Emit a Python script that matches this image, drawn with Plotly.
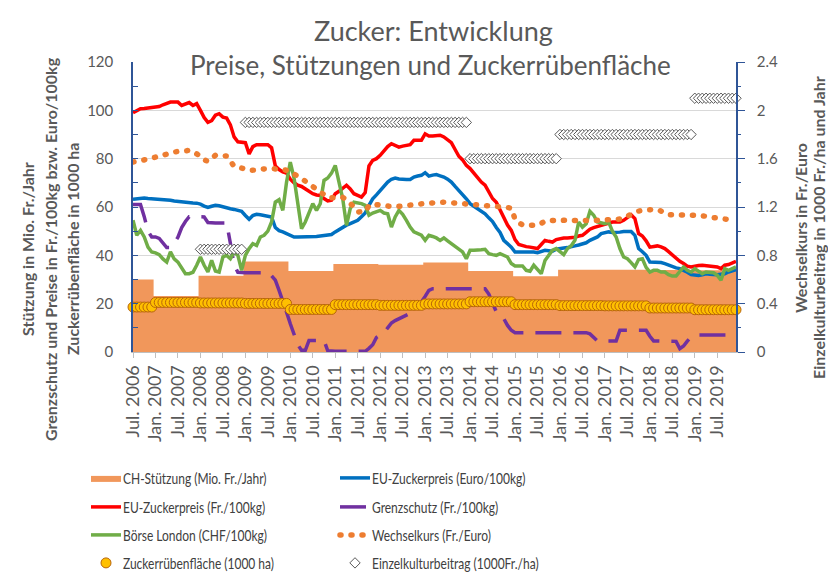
import plotly.graph_objects as go
import pandas as pd

# ---------------- categories ----------------
months = pd.date_range("2006-07-01", "2019-12-01", freq="MS")
month_idx = list(range(len(months)))
tick_idx = [i for i, m in enumerate(months) if m.month in (1, 7)]
tick_labels = [("Jan. " if months[i].month == 1 else "Jul. ") + str(months[i].year) for i in tick_idx]
years = list(range(2006, 2020))

# ---------------- yearly series ----------------
ch_stuetzung = [30.0, 23.2, 31.6, 37.5, 33.5, 36.4, 36.1, 37.0, 33.5, 31.3, 34.0, 34.0, 33.9, 33.8]   # Mio. Fr./Jahr
zrf_flaeche = [18.6, 20.5, 20.3, 20.1, 17.6, 19.6, 19.3, 19.9, 20.8, 19.6, 19.2, 19.1, 18.2, 17.5]   # 1000 ha
einzelkultur = [None, None, 0.85, 1.9, 1.9, 1.9, 1.9, 1.9, 1.6, 1.6, 1.8, 1.8, 1.8, 2.1]            # 1000 Fr./ha

# ---------------- monthly series (Jul 2006 .. Dec 2019) ----------------
eu_preis_fr = [
    99.0, 100.0, 100.7, 100.8, 101.0, 101.2,
    101.4, 101.6, 102.3, 102.8, 103.4, 103.4, 103.4, 102.0, 102.5, 103.2, 102.0, 102.8,
    100.0, 97.0, 95.0, 95.7, 98.0, 98.6, 97.2, 96.8, 94.0, 89.0, 87.0, 86.8,
    86.6, 82.0, 85.0, 85.8, 85.8, 85.8, 85.8, 84.5, 77.0, 75.5, 74.5, 74.0,
    71.5, 70.0, 69.0, 68.5, 67.5, 66.5, 65.5, 65.0, 64.8, 63.5, 62.5, 62.8,
    65.5, 66.5, 68.0, 69.0, 67.5, 65.5, 64.8, 64.1, 66.0, 77.0, 79.3, 80.0,
    81.4, 83.4, 85.0, 86.2, 85.5, 84.8, 85.2, 85.5, 85.8, 87.6, 87.6, 87.6,
    90.3, 89.4, 89.4, 89.7, 89.7, 89.0, 87.8, 86.6, 83.8, 81.0, 79.5, 77.2,
    75.9, 74.0, 72.5, 70.3, 69.0, 66.5, 63.5, 62.0, 59.0, 55.5, 52.5, 50.3,
    46.5, 44.5, 44.0, 43.6, 43.4, 43.0, 42.8, 44.5, 46.2, 45.8, 45.5, 46.5,
    47.0, 47.2, 47.2, 47.2, 47.5, 48.0, 48.3, 49.5, 50.8, 51.5, 52.0, 52.4,
    53.0, 53.5, 53.8, 53.8, 53.8, 54.5, 55.5, 56.8, 55.2, 49.0, 48.0, 46.0,
    43.4, 43.6, 43.9, 43.5, 42.8, 41.5, 40.0, 38.6, 37.5, 36.6, 35.5, 35.2,
    35.6, 35.8, 35.9, 35.8, 35.6, 35.4, 35.2, 34.5, 35.9, 36.2, 36.8, 37.5,
]
eu_preis_euro = [
    63.2, 63.4, 63.6, 63.7, 63.5, 63.4,
    63.4, 63.2, 63.0, 62.9, 62.8, 62.5, 62.3, 62.0, 61.9, 61.8, 61.7, 61.6,
    61.2, 60.4, 59.8, 60.3, 60.7, 60.5, 60.0, 59.6, 59.3, 59.0, 58.5, 58.2,
    56.5, 54.9, 56.5, 57.0, 56.8, 56.6, 56.2, 55.9, 51.5, 50.2, 49.7, 49.0,
    48.3, 47.6, 47.6, 47.6, 47.6, 47.6, 47.6, 47.8, 48.0, 48.3, 48.4, 48.6,
    49.7, 50.7, 51.7, 52.5, 53.1, 53.8, 54.5, 56.0, 57.5, 60.7, 63.4, 65.0,
    66.9, 68.8, 70.3, 71.5, 72.0, 71.6, 71.4, 71.4, 71.4, 72.4, 72.8, 73.1,
    74.2, 72.8, 73.2, 73.4, 72.9, 72.4, 71.5, 70.3, 68.5, 66.9, 65.0, 63.4,
    61.4, 60.3, 59.3, 58.2, 57.2, 55.5, 54.0, 51.5, 49.5, 46.2, 45.0, 43.4,
    41.4, 41.4, 41.7, 41.5, 41.5, 41.4, 41.1, 41.6, 42.1, 41.9, 41.7, 42.5,
    42.9, 43.0, 43.2, 43.4, 43.9, 44.3, 44.6, 45.2, 46.2, 47.0, 47.6, 49.0,
    49.5, 49.7, 49.5, 49.4, 49.6, 49.9, 49.9, 49.9, 48.3, 42.8, 41.5, 40.0,
    37.2, 37.2, 37.2, 37.0, 36.6, 35.9, 35.2, 34.8, 34.5, 33.8, 33.0, 32.0,
    31.8, 31.7, 32.0, 32.4, 32.2, 32.0, 32.0, 32.2, 32.4, 33.1, 33.6, 34.1,
]
grenzschutz = [
    61.0, 61.0, 61.0, 56.0, 50.0, 47.6,
    47.6, 47.0, 45.0, 43.2, 43.2, 45.0, 47.5, 51.5, 54.0, 56.0, 56.0, 56.0,
    56.2, 55.9, 53.6, 53.4, 53.4, 53.4, 53.4, 53.4, 45.0, 36.0, 33.0, 32.8,
    32.8, 32.8, 32.8, 32.8, 32.8, 32.8, 32.8, 31.5, 29.7, 25.5, 21.4, 16.5,
    11.7, 7.0, 3.0, 0.7, 0.7, 4.8, 4.8, 4.8, 4.8, 4.8, 0.5, 0.3,
    0.3, 0.3, 0.3, 0.3, 0.3, 0.3, 0.3, 0.3, 0.3, 1.5, 3.0, 6.0,
    7.0, 8.0, 10.0, 12.0, 13.0, 13.8, 14.5, 15.5, 16.0, 17.9, 19.5, 20.7,
    23.0, 25.5, 26.2, 26.2, 26.2, 26.2, 26.2, 26.2, 26.2, 26.2, 26.2, 26.2,
    26.2, 26.2, 26.2, 26.2, 26.2, 24.0, 20.0, 16.6, 15.0, 13.8, 11.0, 9.0,
    8.0, 8.0, 8.0, 8.0, 8.0, 8.0, 8.0, 8.0, 8.0, 8.0, 8.0, 8.0,
    8.0, 8.0, 8.0, 8.0, 8.0, 8.0, 8.0, 8.0, 7.5, 6.0, 4.6, 4.6,
    4.6, 4.6, 4.6, 4.6, 9.0, 9.0, 9.0, 9.0, 9.0, 9.0, 9.0, 9.0,
    6.5, 4.6, 4.6, 4.6, 4.6, 4.6, 4.6, 4.4, 1.4, 2.5, 4.5, 6.2,
    7.0, 7.0, 7.0, 7.0, 7.0, 7.0, 7.0, 7.0, 7.0, 7.0, 7.0, 7.0,
]
boerse_london = [
    54.5, 48.3, 50.3, 47.6, 43.4, 41.4,
    41.0, 40.3, 38.5, 37.2, 41.4, 38.5, 37.2, 34.5, 32.4, 32.4, 33.0, 35.9,
    39.3, 35.9, 33.1, 37.9, 33.5, 33.1, 39.3, 40.0, 38.6, 41.4, 40.0, 33.8,
    40.0, 42.8, 44.8, 44.1, 47.6, 48.3, 50.0, 53.8, 62.0, 63.0, 58.6, 70.3,
    78.6, 72.0, 62.0, 51.0, 53.8, 57.9, 61.4, 58.6, 61.4, 71.0, 72.0, 74.0,
    77.2, 70.3, 63.4, 52.4, 59.3, 62.0, 61.7, 61.4, 60.7, 56.6, 57.5, 57.9,
    58.6, 57.5, 57.2, 51.7, 55.9, 58.6, 57.0, 54.5, 51.7, 49.7, 49.0, 48.3,
    46.2, 48.3, 47.8, 47.2, 46.2, 47.2, 46.0, 44.8, 43.4, 42.4, 41.4, 38.6,
    42.1, 42.1, 42.1, 42.3, 42.5, 40.7, 40.3, 40.0, 40.7, 40.0, 39.3, 36.6,
    35.6, 35.6, 35.6, 33.8, 33.4, 35.9, 34.0, 32.4, 37.9, 40.0, 42.1, 42.8,
    41.5, 40.3, 42.8, 44.0, 46.2, 53.8, 51.7, 53.1, 58.2, 56.6, 53.8, 53.5,
    53.1, 53.8, 50.0, 47.6, 42.8, 39.3, 38.6, 37.0, 35.2, 38.3, 38.6, 35.0,
    33.1, 33.8, 33.8, 33.1, 33.1, 32.0, 31.4, 31.4, 33.5, 35.2, 33.8, 33.1,
    34.5, 33.5, 32.4, 33.1, 32.8, 32.8, 31.7, 29.7, 34.5, 33.8, 34.5, 35.2,
]
wechselkurs = [
    1.572, 1.576, 1.580, 1.586, 1.596, 1.604,
    1.614, 1.620, 1.628, 1.636, 1.646, 1.654, 1.660, 1.664, 1.666, 1.668, 1.660, 1.646,
    1.620, 1.590, 1.578, 1.600, 1.628, 1.626, 1.624, 1.622, 1.580, 1.536, 1.530, 1.526,
    1.514, 1.504, 1.500, 1.506, 1.512, 1.518, 1.518, 1.518, 1.518, 1.514, 1.510, 1.504,
    1.492, 1.476, 1.456, 1.436, 1.414, 1.390, 1.366, 1.346, 1.320, 1.292, 1.280, 1.276,
    1.280, 1.282, 1.280, 1.260, 1.236, 1.200, 1.158, 1.160, 1.164, 1.210, 1.228, 1.220,
    1.214, 1.210, 1.206, 1.204, 1.202, 1.204, 1.206, 1.210, 1.214, 1.218, 1.222, 1.226,
    1.230, 1.234, 1.238, 1.240, 1.240, 1.240, 1.238, 1.236, 1.234, 1.230, 1.228, 1.226,
    1.224, 1.222, 1.220, 1.218, 1.216, 1.214, 1.210, 1.206, 1.204, 1.200, 1.196, 1.190,
    1.100, 1.070, 1.052, 1.048, 1.048, 1.048, 1.050, 1.064, 1.084, 1.088, 1.090, 1.090,
    1.092, 1.094, 1.090, 1.088, 1.090, 1.092, 1.090, 1.088, 1.086, 1.088, 1.090, 1.090,
    1.088, 1.086, 1.088, 1.092, 1.100, 1.112, 1.128, 1.144, 1.158, 1.166, 1.172, 1.178,
    1.180, 1.180, 1.180, 1.170, 1.152, 1.136, 1.134, 1.132, 1.132, 1.132, 1.132, 1.132,
    1.132, 1.132, 1.130, 1.124, 1.118, 1.112, 1.106, 1.100, 1.096, 1.094, 1.092, 1.090,
]

# ---------------- derived (mapping yearly data onto the monthly axis) ----------------
year_of_month = [m.year for m in months]
first_month_of_year = {y: year_of_month.index(y) for y in years}
step_x = [first_month_of_year[y] - 0.5 for y in years] + [len(months) - 0.5]
step_y = ch_stuetzung + [ch_stuetzung[-1]]
zrf_by_year = dict(zip(years, zrf_flaeche))
ekb_by_year = dict(zip(years, einzelkultur))
zrf_monthly = [zrf_by_year[y] for y in year_of_month]
ekb_monthly = [ekb_by_year[y] for y in year_of_month]

# ---------------- styling / layout geometry ----------------
W_FIG, H_FIG = 828, 576
ML, MR, MT, MB = 133, 92, 62, 224
PW, PH = W_FIG - ML - MR, H_FIG - MT - MB

def px_x(p):
    return (p - ML) / PW

def px_y(p):
    return (H_FIG - MB - p) / PH

FONT = "Lato, 'Open Sans', sans-serif"
GREY = "#595959"
DARK = "#404040"
AXBLUE = "#2F5597"

fig = go.Figure()
fig.add_trace(go.Scatter(
    x=step_x, y=step_y, mode="lines", line=dict(width=0, shape="hv"),
    fill="tozeroy", fillcolor="rgb(241,151,91)", name="CH-Stützung (Mio. Fr./Jahr)",
    legend="legend"))
fig.add_trace(go.Scatter(
    x=month_idx, y=eu_preis_euro, mode="lines", line=dict(color="#0070C0", width=3.5),
    name="EU-Zuckerpreis (Euro/100kg)", legend="legend"))
fig.add_trace(go.Scatter(
    x=month_idx, y=eu_preis_fr, mode="lines", line=dict(color="#FF0000", width=3.5),
    name="EU-Zuckerpreis (Fr./100kg)", legend="legend2"))
fig.add_trace(go.Scatter(
    x=month_idx, y=grenzschutz, mode="lines", line=dict(color="#7030A0", width=3.5, dash="26px,12px"),
    name="Grenzschutz (Fr./100kg)", legend="legend2"))
fig.add_trace(go.Scatter(
    x=month_idx, y=boerse_london, mode="lines", line=dict(color="#70AD47", width=3.5),
    name="Börse London (CHF/100kg)", legend="legend3"))
fig.add_trace(go.Scatter(
    x=month_idx, y=wechselkurs, mode="lines", yaxis="y2",
    line=dict(color="#ED7D31", width=5.5, dash="1px,10px"),
    name="Wechselkurs (Fr./Euro)", legend="legend3"))
fig.add_trace(go.Scatter(
    x=month_idx, y=zrf_monthly, mode="markers", cliponaxis=False,
    marker=dict(symbol="circle", size=10, color="#FFC000", line=dict(color="#B8650A", width=1)),
    name="Zuckerrübenfläche (1000 ha)", legend="legend4"))
fig.add_trace(go.Scatter(
    x=month_idx, y=ekb_monthly, mode="markers", yaxis="y2", cliponaxis=False,
    marker=dict(symbol="diamond", size=8, color="white", line=dict(color="#595959", width=1)),
    name="Einzelkulturbeitrag (1000Fr./ha)", legend="legend4"))

legend_rows_px = [478, 507, 535, 563]
legend_common = dict(orientation="h", xanchor="left", yanchor="middle",
                     xref="container", yref="container",
                     x=86 / W_FIG, entrywidth=204, entrywidthmode="pixels",
                     font=dict(family=FONT, size=16, color=DARK),
                     bgcolor="rgba(0,0,0,0)", itemwidth=30, tracegroupgap=0)

annotations = [
    dict(text="Zucker: Entwicklung", x=px_x(433), y=px_y(31), xref="paper", yref="paper",
         showarrow=False, xanchor="center", yanchor="middle",
         font=dict(family=FONT, size=27, color=GREY)),
    dict(text="Preise, Stützungen und Zuckerrübenfläche", x=px_x(430), y=px_y(65),
         xref="paper", yref="paper", showarrow=False, xanchor="center", yanchor="middle",
         bgcolor="white", font=dict(family=FONT, size=26, color=GREY)),
]
left_titles = ["Stützung in Mio. Fr./Jahr",
               "Grenzschutz und Preise in Fr./100kg bzw. Euro/100kg",
               "Zuckerrübenfläche in 1000 ha"]
for xp, t in zip([27, 50, 72], left_titles):
    annotations.append(dict(text="<b>" + t + "</b>", x=px_x(xp), y=px_y(249), xref="paper", yref="paper",
                            showarrow=False, textangle=-90, xanchor="center", yanchor="middle",
                            font=dict(family=FONT, size=16, color=GREY)))
right_titles = ["Wechselkurs in Fr./Euro", "Einzelkulturbeitrag in 1000 Fr./ha und Jahr"]
for xp, t in zip([800, 818], right_titles):
    annotations.append(dict(text="<b>" + t + "</b>", x=px_x(xp), y=px_y(228), xref="paper", yref="paper",
                            showarrow=False, textangle=-90, xanchor="center", yanchor="middle",
                            font=dict(family=FONT, size=16, color=GREY)))

fig.update_layout(
    width=W_FIG, height=H_FIG,
    margin=dict(l=ML, r=MR, t=MT, b=MB, pad=0, autoexpand=False),
    paper_bgcolor="white", plot_bgcolor="white",
    font=dict(family=FONT, color=GREY),
    showlegend=True,
    legend=dict(legend_common, y=1 - legend_rows_px[0] / H_FIG),
    legend2=dict(legend_common, y=1 - legend_rows_px[1] / H_FIG),
    legend3=dict(legend_common, y=1 - legend_rows_px[2] / H_FIG),
    legend4=dict(legend_common, y=1 - legend_rows_px[3] / H_FIG),
    annotations=annotations,
    xaxis=dict(range=[0, len(months) - 1], tickmode="array", tickvals=tick_idx, ticktext=tick_labels,
               tickangle=-90, ticks="outside", ticklen=5, tickcolor="#BFBFBF",
               showline=True, linecolor="#BFBFBF", linewidth=1, showgrid=False, zeroline=False,
               tickfont=dict(family=FONT, size=18, color=GREY)),
    yaxis=dict(range=[0, 120], dtick=20, tick0=0, ticks="inside", ticklen=5, tickcolor=AXBLUE,
               minor=dict(dtick=10, ticks="inside", ticklen=5, tickcolor=AXBLUE, showgrid=False),
               showline=True, linecolor=AXBLUE, linewidth=1.5, showgrid=True, gridcolor="#D9D9D9",
               gridwidth=1, zeroline=False, ticklabelstandoff=15,
               tickfont=dict(family=FONT, size=15, color=GREY)),
    yaxis2=dict(range=[0, 2.4], dtick=0.4, tick0=0, overlaying="y", side="right",
                ticks="outside", ticklen=7, tickcolor=AXBLUE,
                minor=dict(dtick=0.2, ticks="outside", ticklen=3, tickcolor=AXBLUE, showgrid=False),
                showline=True, linecolor=AXBLUE, linewidth=1.5, showgrid=False, zeroline=False,
                ticklabelstandoff=9, tickfont=dict(family=FONT, size=15, color=GREY)),
)

# page style: no body margin, round dots for the dotted exchange-rate line,
# condensed legend labels (as in the original chart)
post_js = """
var st = document.createElement('style');
st.textContent =
  'html, body { margin: 0 !important; padding: 0 !important; }' +
  'path[style*="1px, 10px"], path[style*="1px,10px"] { stroke-linecap: round !important; }' +
  'text.legendtext, text.legend2text, text.legend3text, text.legend4text { ' +
  'transform: translate(37px, 0px) scale(0.75, 1) translate(-40px, 0px) !important; transform-origin: 0px 0px !important; }';
document.head.appendChild(st);
document.body.style.margin = '0px';
"""

fig.write_html("out.html", post_script=post_js, config={"displayModeBar": False})
